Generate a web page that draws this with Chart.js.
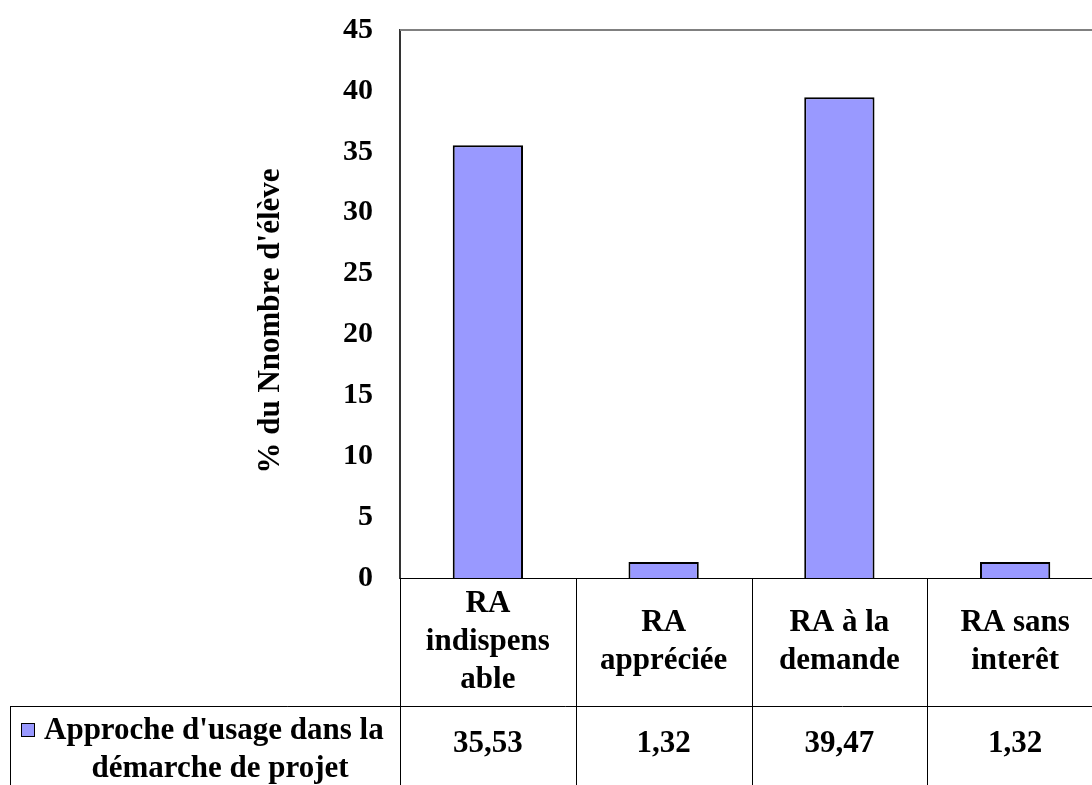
<!DOCTYPE html>
<html>
<head>
<meta charset="utf-8">
<script src="https://cdn.jsdelivr.net/npm/chart.js@4.4.0/dist/chart.umd.min.js"></script>
<style>
  html, body { margin: 0; padding: 0; background: #fff; overflow: hidden; }
  #wrap { width: 1120px; height: 785px; }
</style>
</head>
<body>
<div id="wrap"><canvas id="barChart" width="1120" height="785"></canvas></div>
<script>
// donnees
var categories = [
    ['RA', 'indispens', 'able'],
    ['RA', 'appréciée'],
    ['RA à la', 'demande'],
    ['RA sans', 'interêt']
];
var values = [35.53, 1.32, 39.47, 1.32];
var valueLabels = ['35,53', '1,32', '39,47', '1,32'];
var seriesName = ["Approche d'usage dans la", 'démarche de projet'];
var yTitle = "% du Nnombre d'élève";

var FONT = '"Liberation Serif", "Times New Roman", serif';
var barColor = '#9999ff';

// dessine le tableau de donnees sous le graphique + titre de l'axe
var tablePlugin = {
    id: 'dataTable',
    afterDraw: function(chart) {
        var ctx = chart.ctx;
        var x = chart.scales.x;
        var area = chart.chartArea;
        var rowTop = area.bottom;
        var rowMid = 706;
        var rowBottom = 800;
        var half = (x.getPixelForValue(1) - x.getPixelForValue(0)) / 2;

        ctx.save();
        ctx.strokeStyle = '#000';
        ctx.lineWidth = 1;

        // lignes verticales
        ctx.beginPath();
        for (var i = 0; i <= categories.length; i++) {
            var px = Math.round(x.getPixelForValue(i) - half) + 0.5;
            ctx.moveTo(px, rowTop);
            ctx.lineTo(px, rowBottom);
        }
        // ligne horizontale entre les deux rangees
        ctx.moveTo(10.5, rowMid + 0.5);
        ctx.lineTo(chart.width, rowMid + 0.5);
        // bord gauche de la case legende
        ctx.moveTo(10.5, rowMid);
        ctx.lineTo(10.5, rowBottom);
        ctx.stroke();

        ctx.fillStyle = '#000';
        ctx.textAlign = 'center';
        ctx.textBaseline = 'middle';

        // noms des categories
        ctx.font = 'bold 31px ' + FONT;
        var lh = 38;
        categories.forEach(function(lines, i) {
            var cx = x.getPixelForValue(i);
            var cy = (rowTop + rowMid) / 2;
            var start = cy - (lines.length - 1) * lh / 2;
            lines.forEach(function(t, j) {
                ctx.fillText(t, cx, start + j * lh);
            });
        });

        // valeurs
        valueLabels.forEach(function(t, i) {
            ctx.fillText(t, x.getPixelForValue(i), 744);
        });

        // case legende
        ctx.fillStyle = barColor;
        ctx.fillRect(21, 723, 14, 14);
        ctx.strokeRect(21.5, 723.5, 13, 13);
        ctx.fillStyle = '#000';
        ctx.textAlign = 'left';
        ctx.fillText(seriesName[0], 44, 731);
        ctx.textAlign = 'center';
        ctx.fillText(seriesName[1], 220, 769);

        // titre de l'axe y
        ctx.translate(271, 321);
        ctx.rotate(-Math.PI / 2);
        ctx.fillText(yTitle, 0, 0);
        ctx.restore();
    }
};

// bordure grise du haut de la zone de traçage
var topBorder = {
    id: 'topBorder',
    beforeDatasetsDraw: function(chart) {
        var ctx = chart.ctx;
        var a = chart.chartArea;
        ctx.save();
        ctx.strokeStyle = '#808080';
        ctx.lineWidth = 2;
        ctx.beginPath();
        ctx.moveTo(a.left, a.top);
        ctx.lineTo(chart.width, a.top);
        ctx.stroke();
        ctx.restore();
    }
};

var ctx = document.getElementById('barChart').getContext('2d');
var chart = new Chart(ctx, {
    type: 'bar',
    data: {
        labels: categories,
        datasets: [{
            label: seriesName.join(' '),
            data: values,
            backgroundColor: barColor,
            borderColor: '#000',
            borderWidth: 2,
            categoryPercentage: 1,
            barPercentage: 0.4
        }]
    },
    options: {
        responsive: false,
        animation: false,
        layout: { padding: { top: 30, right: 17, bottom: 207, left: 0 } },
        plugins: {
            legend: { display: false },
            tooltip: { enabled: false }
        },
        scales: {
            x: {
                grid: { display: false, drawTicks: false },
                border: { color: '#000', width: 1 },
                ticks: { display: false }
            },
            y: {
                min: 0,
                max: 45,
                grid: { display: false, drawTicks: false },
                border: { color: '#333', width: 2 },
                ticks: {
                    stepSize: 5,
                    padding: 27,
                    color: '#000',
                    font: { family: FONT, size: 30, weight: 'bold' }
                },
                // largeur fixe de l'axe, pas de marge auto en haut/bas
                afterFit: function(scale) {
                    scale.width = 400;
                    scale.paddingTop = 0;
                    scale.paddingBottom = 0;
                }
            }
        }
    },
    plugins: [topBorder, tablePlugin]
});
</script>
</body>
</html>
